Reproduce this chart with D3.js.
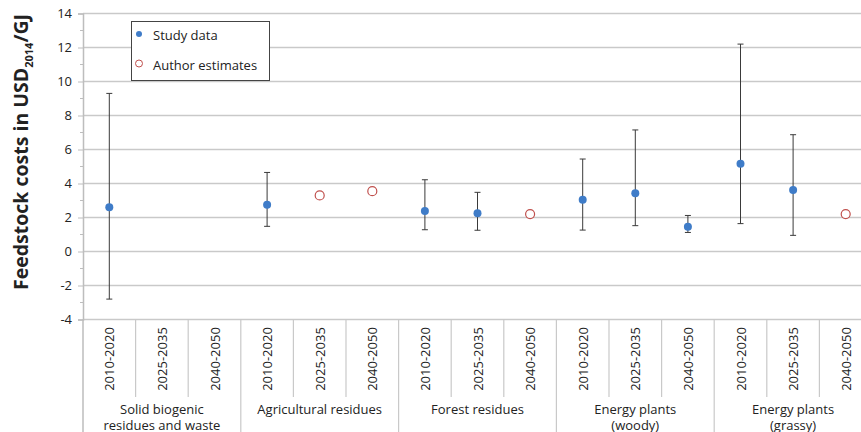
<!DOCTYPE html>
<html>
<head>
<meta charset="utf-8">
<script src="https://cdn.jsdelivr.net/npm/d3@7"></script>
<style>
  body { margin: 0; background: #fff; }
  text { font-family: "Open Sans", "Noto Sans", sans-serif; fill: #222; }
</style>
</head>
<body>
<div id="chart"></div>
<script>
"use strict"

// categories
var groups = [
	["Solid biogenic", "residues and waste"],
	["Agricultural residues"],
	["Forest residues"],
	["Energy plants", "(woody)"],
	["Energy plants", "(grassy)"]
];
var periods = ["2010-2020", "2025-2035", "2040-2050"];
var yTicks = [-4, -2, 0, 2, 4, 6, 8, 10, 12, 14];

// study data (group index, period index, mean, low, high)
var studyGroup  = [0, 1, 2, 2, 3, 3, 3, 4, 4];
var studyPeriod = [0, 0, 0, 1, 0, 1, 2, 0, 1];
var studyValue  = [2.6, 2.75, 2.38, 2.25, 3.05, 3.42, 1.46, 5.16, 3.62];
var studyLow    = [-2.8, 1.48, 1.28, 1.25, 1.26, 1.52, 1.12, 1.64, 0.95];
var studyHigh   = [9.3, 4.65, 4.22, 3.48, 5.44, 7.15, 2.12, 12.2, 6.87];

// author estimates
var authorGroup  = [1, 1, 2, 4];
var authorPeriod = [1, 2, 2, 2];
var authorValue  = [3.3, 3.55, 2.2, 2.2];

var W = 861, H = 432;
var plotLeft = 83, plotTop = 13.5, plotBottom = 319.5;
var bandW = 52.6;

var cats = [];
groups.forEach(function(g, gi) {
	periods.forEach(function(p, pi) { cats.push(gi + "|" + pi); });
});

var x = d3.scaleBand()
	.domain(cats)
	.range([plotLeft, plotLeft + bandW * cats.length]);

var y = d3.scaleLinear()
	.domain([-4, 14])
	.range([plotBottom, plotTop]);

var svg = d3.select("#chart").append("svg")
	.attr("width", W)
	.attr("height", H);

// gridlines
svg.append("g").selectAll("line").data(yTicks).enter().append("line")
	.attr("x1", plotLeft).attr("x2", W)
	.attr("y1", function(d) { return y(d); })
	.attr("y2", function(d) { return y(d); })
	.attr("stroke", "#c9c9c9")
	.attr("stroke-width", 1.5);

// y axis
var yAxis = svg.append("g")
	.attr("transform", "translate(" + plotLeft + ",0)")
	.call(d3.axisLeft(y).tickValues(yTicks).tickFormat(String).tickSize(5).tickPadding(6));
yAxis.select(".domain").attr("stroke", "#bdbdbd").attr("stroke-width", 1.5);
yAxis.selectAll(".tick line").attr("stroke", "#bdbdbd");
yAxis.selectAll("text")
	.style("font-size", "13px")
	.attr("fill", "#222");

// minor ticks
svg.append("g").selectAll("line").data(d3.range(-3, 14, 2)).enter().append("line")
	.attr("x1", plotLeft - 3).attr("x2", plotLeft)
	.attr("y1", function(d) { return y(d); })
	.attr("y2", function(d) { return y(d); })
	.attr("stroke", "#bdbdbd");

// y axis line continues down through the category area
svg.append("line")
	.attr("x1", plotLeft).attr("x2", plotLeft)
	.attr("y1", plotBottom).attr("y2", H)
	.attr("stroke", "#bdbdbd").attr("stroke-width", 1.5);

// category dividers
var catBottom = 397;
svg.append("g").selectAll("line").data(cats.slice(1)).enter().append("line")
	.attr("x1", function(d) { return x(d); })
	.attr("x2", function(d) { return x(d); })
	.attr("y1", plotBottom)
	.attr("y2", function(d) { return d.split("|")[1] === "0" ? H : catBottom; })
	.attr("stroke", "#c9c9c9")
	.attr("stroke-width", 1.2);

// period labels
svg.append("g").selectAll("text").data(cats).enter().append("text")
	.attr("transform", function(d) {
		return "translate(" + (x(d) + x.bandwidth() / 2 + 5) + "," + 359 + ") rotate(-90)";
	})
	.attr("text-anchor", "middle")
	.style("font-size", "13px")
	.text(function(d) { return periods[+d.split("|")[1]]; });

// group labels
var gl = svg.append("g").selectAll("text").data(groups).enter().append("text")
	.attr("text-anchor", "middle")
	.style("font-size", "13px")
	.attr("x", function(d, i) { return x(i + "|1") + x.bandwidth() / 2; })
	.attr("y", 414);
gl.selectAll("tspan").data(function(d) { return d; }).enter().append("tspan")
	.attr("x", function() { return d3.select(this.parentNode).attr("x"); })
	.attr("dy", function(d, i) { return i === 0 ? 0 : 15.5; })
	.text(function(d) { return d; });

// y axis title
var title = svg.append("text")
	.attr("transform", "translate(28,152) rotate(-90)")
	.attr("text-anchor", "middle")
	.style("font-size", "19.5px")
	.style("font-weight", "bold");
title.append("tspan").text("Feedstock costs in USD");
title.append("tspan").attr("dy", 5).style("font-size", "11px").text("2014");
title.append("tspan").attr("dy", -5).text("/GJ");

var cx = function(g, p) { return x(g + "|" + p) + x.bandwidth() / 2; };

// error bars
var study = studyValue.map(function(v, i) {
	return { g: studyGroup[i], p: studyPeriod[i], v: v, lo: studyLow[i], hi: studyHigh[i] };
});
var eb = svg.append("g").attr("stroke", "#3a3a3a").attr("stroke-width", 1);
eb.selectAll("line.v").data(study).enter().append("line")
	.attr("class", "v")
	.attr("x1", function(d) { return cx(d.g, d.p); })
	.attr("x2", function(d) { return cx(d.g, d.p); })
	.attr("y1", function(d) { return y(d.lo); })
	.attr("y2", function(d) { return y(d.hi); });
["lo", "hi"].forEach(function(k) {
	eb.selectAll("line." + k).data(study).enter().append("line")
		.attr("class", k)
		.attr("x1", function(d) { return cx(d.g, d.p) - 3; })
		.attr("x2", function(d) { return cx(d.g, d.p) + 3; })
		.attr("y1", function(d) { return y(d[k]); })
		.attr("y2", function(d) { return y(d[k]); });
});

// study points
svg.append("g").selectAll("circle").data(study).enter().append("circle")
	.attr("cx", function(d) { return cx(d.g, d.p); })
	.attr("cy", function(d) { return y(d.v); })
	.attr("r", 4)
	.attr("fill", "#3f7cc8");

// author estimates
var author = authorValue.map(function(v, i) {
	return { g: authorGroup[i], p: authorPeriod[i], v: v };
});
svg.append("g").selectAll("circle").data(author).enter().append("circle")
	.attr("cx", function(d) { return cx(d.g, d.p); })
	.attr("cy", function(d) { return y(d.v); })
	.attr("r", 4.5)
	.attr("fill", "#fff")
	.attr("stroke", "#c0504d")
	.attr("stroke-width", 1.2);

// legend
var lg = svg.append("g");
lg.append("rect")
	.attr("x", 131.5).attr("y", 21.5)
	.attr("width", 138).attr("height", 59)
	.attr("fill", "#fff")
	.attr("stroke", "#444");
lg.append("circle").attr("cx", 139).attr("cy", 34).attr("r", 3).attr("fill", "#3f7cc8");
lg.append("circle").attr("cx", 139).attr("cy", 63.5).attr("r", 3.5)
	.attr("fill", "#fff").attr("stroke", "#c0504d").attr("stroke-width", 1);
lg.append("text").attr("x", 153).attr("y", 40).style("font-size", "13px").text("Study data");
lg.append("text").attr("x", 153).attr("y", 69.5).style("font-size", "13px").text("Author estimates");
</script>
</body>
</html>
